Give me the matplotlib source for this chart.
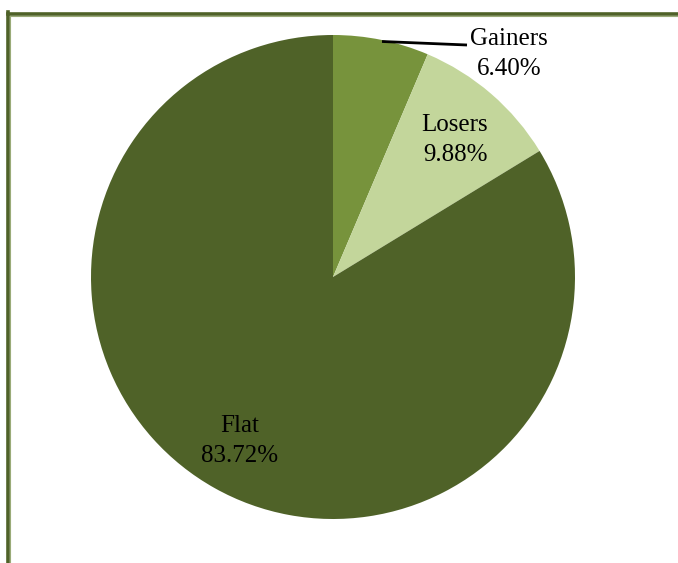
import matplotlib
matplotlib.use("Agg")
import matplotlib.pyplot as plt
from matplotlib.lines import Line2D

categories = ["Gainers", "Losers", "Flat"]
values = [6.40, 9.88, 83.72]
colors = ["#77933C", "#C3D69B", "#4F6228"]

W, H = 678, 563
fig = plt.figure(figsize=(W / 100, H / 100), dpi=100)
ax = fig.add_axes([0, 0, 1, 1])
ax.set_xlim(0, W)
ax.set_ylim(0, H)
ax.set_aspect("equal")
ax.axis("off")

cx, cy, r = 333, H - 277, 242
ax.pie(values, colors=colors, startangle=90, counterclock=False,
       radius=r, center=(cx, cy), frame=True,
       wedgeprops=dict(linewidth=0))
ax.set_xlim(0, W)
ax.set_ylim(0, H)
ax.axis("off")

font = dict(family=["Liberation Serif", "DejaVu Serif"], fontsize=18, color="#000000",
            ha="center", va="center")
labels_pos = {"Gainers": (509, 39), "Losers": (455, 125), "Flat": (240, 426)}
for cat, v in zip(categories, values):
    x, y = labels_pos[cat]
    ax.text(x, H - y, cat, **font)
    ax.text(x, H - y - 30, f"{v:.2f}%", **font)

# leader line for Gainers
ax.plot([382, 467], [H - 41.5, H - 45], color="black", lw=2, solid_capstyle="butt")

# border (partial frame)
fig.add_artist(Line2D([7.5 / W, 7.5 / W], [0, 1 - 12 / H], transform=fig.transFigure,
                      color="#4F6228", lw=2.6))
fig.add_artist(Line2D([7.5 / W, 1], [1 - 13.5 / H, 1 - 13.5 / H], transform=fig.transFigure,
                      color="#4F6228", lw=2.6))
fig.add_artist(Line2D([9.7 / W, 9.7 / W], [0, 1 - 15.5 / H], transform=fig.transFigure,
                      color="#9AAB78", lw=0.8))
fig.add_artist(Line2D([9.7 / W, 1], [1 - 15.5 / H, 1 - 15.5 / H], transform=fig.transFigure,
                      color="#9AAB78", lw=0.8))

fig.savefig("out.png", dpi=100, facecolor="white")
